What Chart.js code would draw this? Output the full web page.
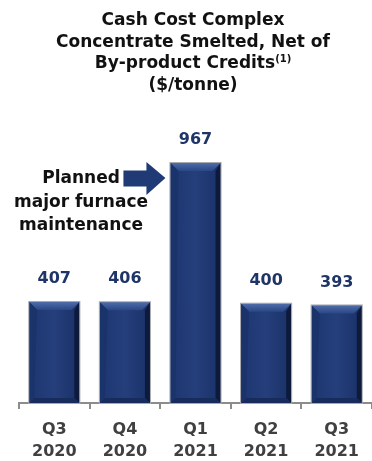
<!DOCTYPE html>
<html lang="en">
<head>
    <meta charset="UTF-8">
    <title>Cash Cost Complex Concentrate Smelted</title>
    <script src="https://cdn.jsdelivr.net/npm/chart.js"></script>
    <style>
        html, body {
            margin: 0;
            padding: 0;
            background: #ffffff;
        }
        .wrap {
            position: relative;
            width: 372px;
            height: 461px;
        }
        .title {
            position: absolute;
            top: 9px;
            left: 14px;
            width: 358px;
            text-align: center;
            font-family: "DejaVu Sans", sans-serif;
            font-weight: bold;
            font-size: 17px;
            line-height: 21.5px;
            color: #111;
        }
        .title sup {
            font-size: 10px;
            line-height: 0;
            vertical-align: 6px;
        }
        canvas {
            position: absolute;
            left: 0;
            top: 0;
        }
    </style>
</head>
<body>
<div class="wrap">
    <canvas id="costChart" width="372" height="461"></canvas>
    <div class="title">
        Cash Cost Complex<br>
        Concentrate Smelted, Net of<br>
        By-product Credits<sup>(1)</sup><br>
        ($/tonne)
    </div>
</div>

<script>
    // quarters and cash cost per tonne
    const quarters = [["Q3", "2020"], ["Q4", "2020"], ["Q1", "2021"], ["Q2", "2021"], ["Q3", "2021"]];
    const cashCost = [407, 406, 967, 400, 393];
    const noteLines = ["Planned", "major furnace", "maintenance"];
    const noteIndex = 2;

    const NAVY = "#223d7a";

    // bevelled look on top of each bar
    const bevelBars = {
        id: "bevelBars",
        afterDatasetsDraw(chart) {
            const ctx = chart.ctx;
            chart.getDatasetMeta(0).data.forEach(bar => {
                const l = bar.x - bar.width / 2;
                const r = bar.x + bar.width / 2;
                const t = bar.y;
                const b = bar.base;
                const bv = 8;
                ctx.save();
                // body gradient
                let g = ctx.createLinearGradient(l, 0, r, 0);
                g.addColorStop(0, "#1d3670");
                g.addColorStop(0.5, "#253f7c");
                g.addColorStop(1, "#1a3168");
                ctx.fillStyle = g;
                ctx.fillRect(l, t, r - l, b - t);
                // top bevel
                g = ctx.createLinearGradient(0, t, 0, t + bv);
                g.addColorStop(0, "#4f6dab");
                g.addColorStop(1, "#2a4684");
                ctx.fillStyle = g;
                ctx.beginPath();
                ctx.moveTo(l, t); ctx.lineTo(r, t);
                ctx.lineTo(r - bv, t + bv); ctx.lineTo(l + bv, t + bv);
                ctx.closePath(); ctx.fill();
                // right side
                ctx.fillStyle = "#0d1a3b";
                ctx.beginPath();
                ctx.moveTo(r, t); ctx.lineTo(r, b);
                ctx.lineTo(r - 5, b - 5); ctx.lineTo(r - 5, t + bv);
                ctx.closePath(); ctx.fill();
                // bottom
                ctx.fillStyle = "#172c5c";
                ctx.beginPath();
                ctx.moveTo(l, b); ctx.lineTo(r, b);
                ctx.lineTo(r - 5, b - 5); ctx.lineTo(l + 5, b - 5);
                ctx.closePath(); ctx.fill();
                // left side
                ctx.fillStyle = "#1b336b";
                ctx.beginPath();
                ctx.moveTo(l, t); ctx.lineTo(l + bv, t + bv);
                ctx.lineTo(l + 5, b - 5); ctx.lineTo(l, b);
                ctx.closePath(); ctx.fill();
                // outline
                ctx.strokeStyle = "#a8aab0";
                ctx.lineWidth = 1;
                ctx.strokeRect(l - 0.5, t - 0.5, r - l + 1, b - t + 1);
                ctx.restore();
            });
        }
    };

    // numbers above bars
    const valueLabels = {
        id: "valueLabels",
        afterDatasetsDraw(chart) {
            const ctx = chart.ctx;
            ctx.save();
            ctx.font = "bold 16px 'DejaVu Sans'";
            ctx.fillStyle = "#1f3568";
            ctx.textAlign = "center";
            ctx.textBaseline = "middle";
            chart.getDatasetMeta(0).data.forEach((bar, i) => {
                ctx.fillText(cashCost[i], bar.x, bar.y - 23);
            });
            ctx.restore();
        }
    };

    // arrow and note pointing at the maintenance quarter
    const noteArrow = {
        id: "noteArrow",
        afterDraw(chart) {
            const ctx = chart.ctx;
            const bar = chart.getDatasetMeta(0).data[noteIndex];
            const tipX = bar.x - bar.width / 2 - 5;
            const tipY = bar.y + 15;
            ctx.save();
            ctx.fillStyle = "#1f3a75";
            ctx.beginPath();
            ctx.moveTo(tipX - 42, tipY - 7.5);
            ctx.lineTo(tipX - 19, tipY - 7.5);
            ctx.lineTo(tipX - 19, tipY - 16);
            ctx.lineTo(tipX, tipY);
            ctx.lineTo(tipX - 19, tipY + 17);
            ctx.lineTo(tipX - 19, tipY + 8.5);
            ctx.lineTo(tipX - 42, tipY + 8.5);
            ctx.closePath();
            ctx.fill();

            ctx.font = "bold 17px 'DejaVu Sans'";
            ctx.fillStyle = "#111";
            ctx.textAlign = "center";
            ctx.textBaseline = "alphabetic";
            noteLines.forEach((line, i) => {
                ctx.fillText(line, 81, tipY + 5 + i * 23.5);
            });
            ctx.restore();
        }
    };

    const ctx = document.getElementById("costChart").getContext("2d");
    new Chart(ctx, {
        type: "bar",
        data: {
            labels: quarters,
            datasets: [{
                data: cashCost,
                backgroundColor: NAVY,
                barPercentage: 0.71,
                categoryPercentage: 1.0
            }]
        },
        options: {
            responsive: false,
            animation: false,
            devicePixelRatio: 1,
            layout: {
                padding: { top: 130, left: 19, right: 0, bottom: 0 }
            },
            plugins: {
                legend: { display: false },
                tooltip: { enabled: false }
            },
            scales: {
                x: {
                    offset: true,
                    afterFit(axis) { axis.height = 58; },
                    border: { color: "#8c8c8c", width: 2 },
                    grid: {
                        offset: true,
                        drawOnChartArea: false,
                        drawTicks: true,
                        tickLength: 6,
                        color: "#8c8c8c",
                        lineWidth: 2
                    },
                    ticks: {
                        color: "#404040",
                        padding: 10,
                        font: { family: "DejaVu Sans", size: 16, weight: "bold", lineHeight: 1.38 }
                    }
                },
                y: {
                    display: false,
                    min: 0,
                    max: 1100
                }
            }
        },
        plugins: [bevelBars, valueLabels, noteArrow]
    });
</script>
</body>
</html>
